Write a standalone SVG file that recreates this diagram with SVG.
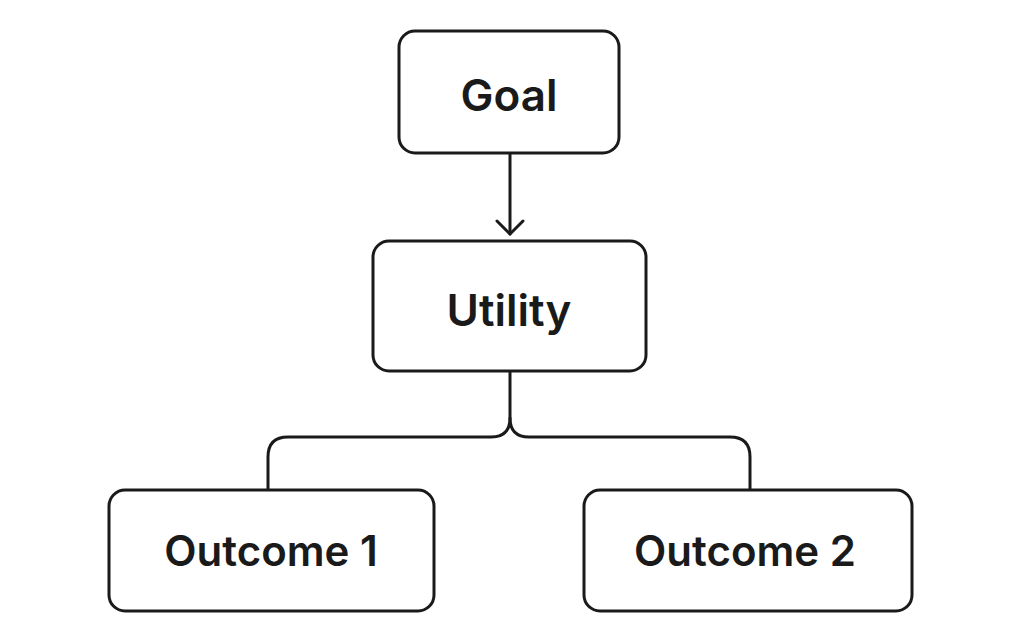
<svg xmlns="http://www.w3.org/2000/svg" width="1024" height="635" viewBox="0 0 1024 635">
<style>
.box{fill:#fff;stroke:#1a1a1a;stroke-width:3}
.lbl{font-family:Inter,"Liberation Sans",sans-serif;font-weight:600;fill:#1a1a1a;text-anchor:middle}
.ln{fill:none;stroke:#1a1a1a;stroke-width:3;stroke-linecap:round;stroke-linejoin:round}
</style>
<rect width="1024" height="635" fill="#fff"/>
<g id="connectors">
<path class="ln" d="M510 153 V234"/>
<path class="ln" d="M497 221 L510 234 L523 221"/>
<path class="ln" d="M510 371 V418 Q510 437 491 437 H288 Q268 437 268 457 V490"/>
<path class="ln" d="M510 418 Q510 437 529 437 H730 Q750 437 750 457 V490"/>
</g>
<g id="goal"><rect class="box" x="399" y="31" width="220" height="122" rx="16"/><text class="lbl" x="509" y="111" font-size="44">Goal</text></g>
<g id="utility"><rect class="box" x="373" y="241" width="273" height="130" rx="16"/><text class="lbl" x="509" y="326" font-size="44">Utility</text></g>
<g id="outcome1"><rect class="box" x="109" y="490" width="325" height="121" rx="16"/><text class="lbl" x="271" y="566" font-size="42">Outcome 1</text></g>
<g id="outcome2"><rect class="box" x="584" y="490" width="328" height="121" rx="16"/><text class="lbl" x="745" y="566" font-size="42">Outcome 2</text></g>
</svg>
